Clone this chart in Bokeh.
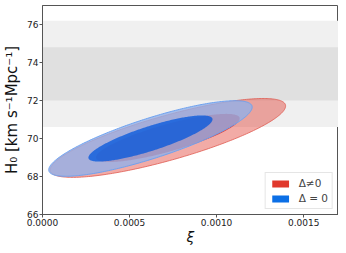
import numpy as np
from bokeh.plotting import figure
from bokeh.models import BoxAnnotation, Legend, LegendItem, PrintfTickFormatter, FixedTicker, Range1d
from bokeh.embed import file_html
from bokeh.resources import INLINE

# ---- data ----
labels = ["Δ≠0", "Δ = 0"]
colors_main = ["#e0382c", "#0b6fe6"]
# Gaussian posterior summaries: mean xi, mean H0, sigma xi, sigma H0, correlation
mean_xi = [0.00072, 0.00062]
mean_h0 = [70.03, 70.0]
sig_xi = [0.000272, 0.000235]
sig_h0 = [0.835, 0.80]
rho = [0.81, 0.83]
chi2_levels = [2.30, 6.18]  # 68% and 95% for 2 dof

h0_local = 73.4
h0_local_sigma = 1.4

x_ticks = [0.0, 0.0005, 0.0010, 0.0015]
y_ticks = [66, 68, 70, 72, 74, 76]


def contour(i, level):
    cov = np.array([[sig_xi[i] ** 2, rho[i] * sig_xi[i] * sig_h0[i]],
                    [rho[i] * sig_xi[i] * sig_h0[i], sig_h0[i] ** 2]])
    L = np.linalg.cholesky(cov)
    t = np.linspace(0, 2 * np.pi, 300)
    pts = np.sqrt(level) * (L @ np.vstack([np.cos(t), np.sin(t)]))
    return pts[0] + mean_xi[i], pts[1] + mean_h0[i]


p = figure(frame_width=296, frame_height=209, output_backend="svg", toolbar_location=None,
           x_range=Range1d(0, 0.0017), y_range=Range1d(66, 77),
           min_border_left=40, min_border_right=0, min_border_top=5, min_border_bottom=0)
p.grid.visible = False
p.background_fill_color = "white"
p.border_fill_color = "white"
p.outline_line_color = "#555555"
p.outline_line_width = 1

p.add_layout(BoxAnnotation(bottom=h0_local - 2 * h0_local_sigma, top=h0_local + 2 * h0_local_sigma,
                           fill_color="#f0f0f0", fill_alpha=1, line_color=None, level="underlay"))
p.add_layout(BoxAnnotation(bottom=h0_local - h0_local_sigma, top=h0_local + h0_local_sigma,
                           fill_color="#e0e0e0", fill_alpha=1, line_color=None, level="underlay"))

# red (Delta != 0)
x2, y2 = contour(0, chi2_levels[1])
p.patch(x2, y2, fill_color="#e0382c", fill_alpha=0.42, line_color="#e05a50", line_width=0.8)
x1, y1 = contour(0, chi2_levels[0])
p.patch(x1, y1, fill_color="#e0302a", fill_alpha=0.95, line_color=None)
# blue (Delta = 0)
x2, y2 = contour(1, chi2_levels[1])
p.patch(x2, y2, fill_color="#92b0e8", fill_alpha=0.8, line_color="#6ea2f0", line_width=1)
x1, y1 = contour(1, chi2_levels[0])
p.patch(x1, y1, fill_color="#0056dc", fill_alpha=0.75, line_color=None)

# legend swatches: zero-size rects at the posterior means (invisible in the plot)
r_leg0 = p.rect(x=[mean_xi[0]], y=[mean_h0[0]], width=0, height=0,
                fill_color=colors_main[0], line_color=None)
r_leg1 = p.rect(x=[mean_xi[1]], y=[mean_h0[1]], width=0, height=0,
                fill_color=colors_main[1], line_color=None)
legend = Legend(items=[LegendItem(label=labels[0], renderers=[r_leg0]),
                       LegendItem(label=labels[1], renderers=[r_leg1])],
                location="bottom_right", label_text_font="DejaVu Sans", label_text_font_size="10.5px",
                border_line_color="#cccccc", border_line_width=1, background_fill_alpha=0.9,
                glyph_width=21, glyph_height=9, label_height=11, spacing=3, padding=4,
                margin=5, label_standoff=8)
p.add_layout(legend)

for ax in (p.xaxis[0], p.yaxis[0]):
    ax.axis_line_color = "#555555"
    ax.major_tick_line_color = "#555555"
    ax.minor_tick_line_color = None
    ax.major_tick_out = 3
    ax.major_tick_in = 0
    ax.major_label_text_font = "DejaVu Sans"
    ax.major_label_text_font_size = "9px"
    ax.major_label_text_color = "#222222"
    ax.axis_label_text_font = "DejaVu Sans"
    ax.axis_label_text_color = "#111111"
    ax.major_label_standoff = 1

p.xaxis.ticker = FixedTicker(ticks=x_ticks)
p.xaxis.formatter = PrintfTickFormatter(format="%.4f")
p.yaxis.ticker = FixedTicker(ticks=y_ticks)
p.xaxis.axis_label = "ξ"
p.xaxis.axis_label_text_font_style = "italic"
p.xaxis.axis_label_text_font_size = "14px"
p.xaxis.axis_label_standoff = 0
p.yaxis.axis_label = "H₀ [km s⁻¹Mpc⁻¹]"
p.yaxis.axis_label_text_font_size = "15px"
p.yaxis.axis_label_text_font_style = "normal"
p.yaxis.axis_label_standoff = 3

open("out.html", "w").write(file_html(p, INLINE))
